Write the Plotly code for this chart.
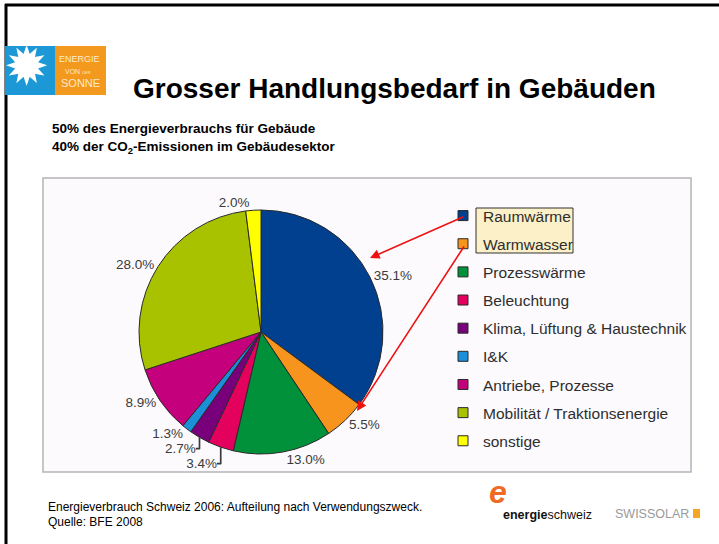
import plotly.graph_objects as go

# ---------------- data ----------------
categories = ["Raumwärme", "Warmwasser", "Prozesswärme", "Beleuchtung",
              "Klima, Lüftung & Haustechnik", "I&K", "Antriebe, Prozesse",
              "Mobilität / Traktionsenergie", "sonstige"]
shares = [35.1, 5.5, 13.0, 3.4, 2.7, 1.3, 8.9, 28.0, 2.0]
colors = ["#00408f", "#f7941d", "#00913a", "#e4005d", "#78007a",
          "#1b8fd8", "#c4007c", "#a8c200", "#ffff00"]

title_text = "Grosser Handlungsbedarf in Gebäuden"
subtitle_lines = ["50% des Energieverbrauchs für Gebäude",
                  "40% der CO<sub>2</sub>-Emissionen im Gebäudesektor"]
footer_lines = ["Energieverbrauch Schweiz 2006: Aufteilung nach Verwendungszweck.",
                "Quelle: BFE 2008"]

W, H = 719, 544
FONT = "Liberation Sans, Arial, sans-serif"


def px(x):
    return x / W


def py(y):
    return 1 - y / H


fig = go.Figure()

# pie
cx, cy, r = 261, 332, 122
fig.add_trace(go.Pie(
    labels=categories, values=shares, sort=False, direction="clockwise",
    rotation=0, marker=dict(colors=colors, line=dict(color="#2a2a2a", width=1)),
    texttemplate="%{value:.1f}%", textposition="outside",
    outsidetextfont=dict(family=FONT, size=13.5, color="#3a3a3a"),
    showlegend=False, hoverinfo="label+value",
    domain=dict(x=[px(cx - r), px(cx + r)], y=[py(cy + r), py(cy - r)]),
))

# legend entries (one per category)
for name, col in zip(categories, colors):
    fig.add_trace(go.Scatter(
        x=[None], y=[None], mode="markers", name=name, legendgroup=name,
        marker=dict(symbol="square", size=10, color=col,
                    line=dict(color="#2a2a2a", width=1)),
        showlegend=True, hoverinfo="skip",
    ))

shapes = [
    # black frame (top + left)
    dict(type="line", xref="paper", yref="paper", x0=px(5), x1=px(719), y0=py(5), y1=py(5),
         line=dict(color="#000000", width=3)),
    dict(type="line", xref="paper", yref="paper", x0=px(6), x1=px(6), y0=py(4), y1=py(544),
         line=dict(color="#000000", width=3)),
    # chart box
    dict(type="rect", xref="paper", yref="paper", x0=px(43), x1=px(691), y0=py(178), y1=py(472),
         line=dict(color="#b4b4b8", width=1.5), fillcolor="#fcfafd", layer="below"),
    # highlight of first two legend entries
    dict(type="rect", xref="paper", yref="paper", x0=px(476), x1=px(573), y0=py(208), y1=py(253),
         line=dict(color="#333333", width=1), fillcolor="#fbf0c8", layer="below"),
    # top-left logo
    dict(type="rect", xref="paper", yref="paper", x0=px(5), x1=px(55), y0=py(46), y1=py(95),
         line=dict(width=0), fillcolor="#1b98d5", layer="above"),
    dict(type="rect", xref="paper", yref="paper", x0=px(55), x1=px(106), y0=py(46), y1=py(95),
         line=dict(width=0), fillcolor="#f39a1e", layer="above"),
    # swissolar icon
    dict(type="rect", xref="paper", yref="paper", x0=px(693), x1=px(700), y0=py(509), y1=py(518),
         line=dict(width=0), fillcolor="#f5a623", layer="above"),
]

annotations = [
    dict(text="✹", x=px(26), y=py(66), xref="paper", yref="paper", showarrow=False,
         font=dict(family="DejaVu Sans", size=54, color="#ffffff"), xanchor="center", yanchor="middle"),
    dict(text="ENERGIE", x=px(79), y=py(59), xref="paper", yref="paper", showarrow=False,
         font=dict(family=FONT, size=9, color="#fde9c8"), xanchor="center", yanchor="middle"),
    dict(text="VON <span style='font-size:4px'>DER</span>", x=px(78), y=py(72), xref="paper", yref="paper",
         showarrow=False, font=dict(family=FONT, size=7, color="#fde9c8"), xanchor="center", yanchor="middle"),
    dict(text="SONNE", x=px(80), y=py(83), xref="paper", yref="paper", showarrow=False,
         font=dict(family=FONT, size=11, color="#fde9c8"), xanchor="center", yanchor="middle"),
    dict(text="<b>" + title_text + "</b>", x=px(131), y=py(89), xref="paper", yref="paper",
         showarrow=False, font=dict(family=FONT, size=28, color="#000000"),
         xanchor="left", yanchor="middle"),
    dict(text="<b>" + subtitle_lines[0] + "</b>", x=px(50), y=py(128), xref="paper", yref="paper",
         showarrow=False, font=dict(family=FONT, size=13.5, color="#000000"),
         xanchor="left", yanchor="middle"),
    dict(text="<b>" + subtitle_lines[1] + "</b>", x=px(50), y=py(148), xref="paper", yref="paper",
         showarrow=False, font=dict(family=FONT, size=13.5, color="#000000"),
         xanchor="left", yanchor="middle"),
    dict(text=footer_lines[0], x=px(46), y=py(507), xref="paper", yref="paper",
         showarrow=False, font=dict(family=FONT, size=12, color="#000000"),
         xanchor="left", yanchor="middle"),
    dict(text=footer_lines[1], x=px(46), y=py(522), xref="paper", yref="paper",
         showarrow=False, font=dict(family=FONT, size=12, color="#000000"),
         xanchor="left", yanchor="middle"),
    # energieschweiz logo
    dict(text="<b><i>e</i></b>", x=px(498), y=py(492), xref="paper", yref="paper",
         showarrow=False, font=dict(family=FONT, size=32, color="#f06a24"),
         xanchor="center", yanchor="middle"),
    dict(text="<b>energie</b>schweiz", x=px(501), y=py(515), xref="paper", yref="paper",
         showarrow=False, font=dict(family=FONT, size=12.5, color="#111111"),
         xanchor="left", yanchor="middle"),
    dict(text="SWISSOLAR", x=px(613), y=py(514), xref="paper", yref="paper",
         showarrow=False, font=dict(family=FONT, size=12.5, color="#9a9a9a"),
         xanchor="left", yanchor="middle"),
    # red arrows from legend to slices
    dict(x=px(370), y=py(258), xref="paper", yref="paper", ax=95, ay=-42, text="",
         showarrow=True, arrowhead=2, arrowsize=1.2, arrowwidth=1.6, arrowcolor="#ee1111"),
    dict(x=px(357), y=py(411), xref="paper", yref="paper", ax=108, ay=-166, text="",
         showarrow=True, arrowhead=2, arrowsize=1.2, arrowwidth=1.6, arrowcolor="#ee1111"),
]

fig.update_layout(
    width=W, height=H, margin=dict(l=0, r=0, t=0, b=0),
    paper_bgcolor="#ffffff", plot_bgcolor="rgba(0,0,0,0)",
    shapes=shapes, annotations=annotations,
    xaxis=dict(visible=False, domain=[0.99, 1.0]),
    yaxis=dict(visible=False, domain=[0.99, 1.0]),
    showlegend=True,
    legend=dict(x=px(443), y=py(199), xanchor="left", yanchor="top",
                font=dict(family=FONT, size=15.5, color="#2e2e2e"),
                bgcolor="rgba(0,0,0,0)", tracegroupgap=5, itemwidth=30,
                traceorder="grouped"),
)

fig.write_html("out.html", config={"displayModeBar": False},
               post_script="document.body.style.margin='0px';document.body.style.overflow='hidden';")
